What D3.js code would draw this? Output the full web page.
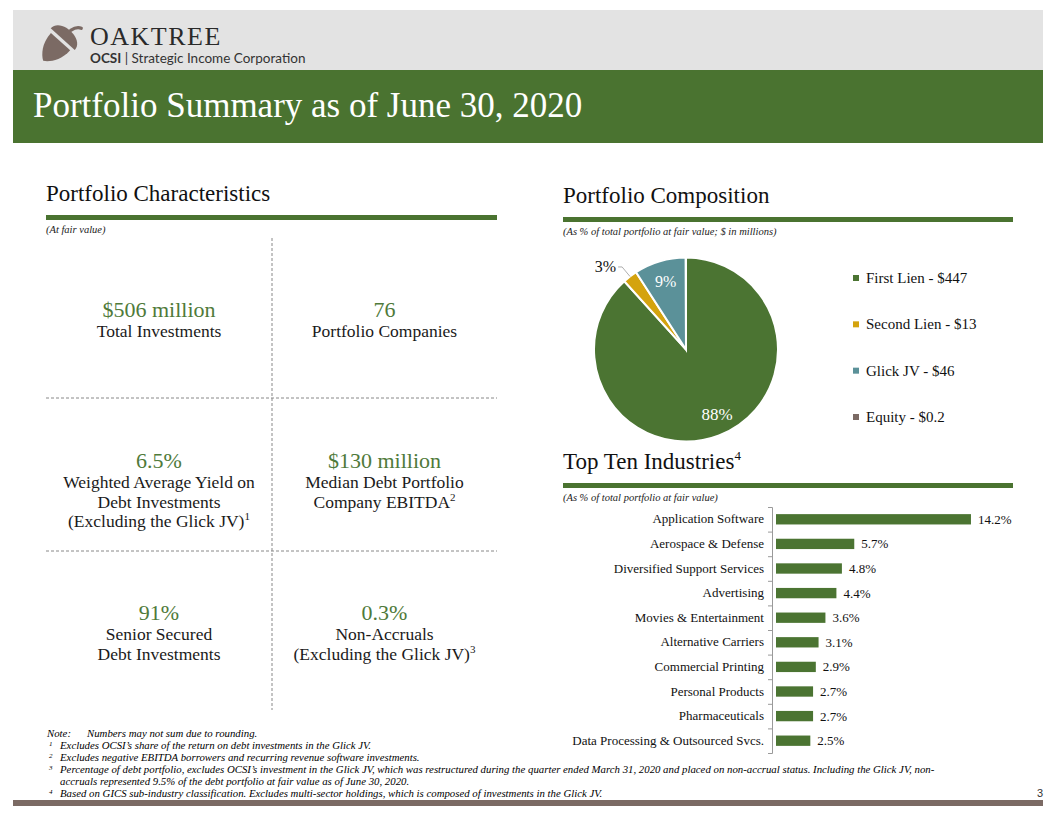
<!DOCTYPE html>
<html>
<head>
<meta charset="utf-8">
<script src="https://cdn.jsdelivr.net/npm/d3@7/dist/d3.min.js"></script>
<style>
  html, body { margin: 0; padding: 0; background: #fff; }
  svg { display: block; }
  text { font-family: "Liberation Serif", "DejaVu Serif", serif; }
</style>
</head>
<body>
<svg id="chart" width="1056" height="816"></svg>
<script>
// ---------------- DATA ----------------
const compLabels = ["First Lien", "Second Lien", "Glick JV", "Equity"];
const compValues = [447, 13, 46, 0.2];
const compValueText = ["$447", "$13", "$46", "$0.2"];
const compPctText = ["88%", "3%", "9%", ""];
const compColors = ["#4b7432", "#d4a30e", "#5b9199", "#7b6a64"];

const industries = ["Application Software", "Aerospace & Defense", "Diversified Support Services",
  "Advertising", "Movies & Entertainment", "Alternative Carriers", "Commercial Printing",
  "Personal Products", "Pharmaceuticals", "Data Processing & Outsourced Svcs."];
const industryPct = [14.2, 5.7, 4.8, 4.4, 3.6, 3.1, 2.9, 2.7, 2.7, 2.5];

const statValues = ["$506 million", "76", "6.5%", "$130 million", "91%", "0.3%"];
const statDescs = [
  [["Total Investments"]],
  [["Portfolio Companies"]],
  [["Weighted Average Yield on"], ["Debt Investments"], ["(Excluding the Glick JV)", "1"]],
  [["Median Debt Portfolio"], ["Company EBITDA", "2"]],
  [["Senior Secured"], ["Debt Investments"]],
  [["Non-Accruals"], ["(Excluding the Glick JV)", "3"]]
];

const footnotes = [
  ["Note:", "Numbers may not sum due to rounding."],
  ["1", "Excludes OCSI\u2019s share of the return on debt investments in the Glick JV."],
  ["2", "Excludes negative EBITDA borrowers and recurring revenue software investments."],
  ["3", "Percentage of debt portfolio, excludes OCSI\u2019s investment in the Glick JV, which was restructured during the quarter ended March 31, 2020 and placed on non-accrual status. Including the Glick JV, non-"],
  ["", "accruals represented 9.5% of the debt portfolio at fair value as of June 30, 2020."],
  ["4", "Based on GICS sub-industry classification. Excludes multi-sector holdings, which is composed of investments in the Glick JV."]
];

// ---------------- STYLE ----------------
const GREEN = "#4a7330";
const svg = d3.select("#chart");

// ---------------- HEADER ----------------
svg.append("rect").attr("x", 13).attr("y", 10).attr("width", 1030).attr("height", 60).attr("fill", "#e3e3e3");
svg.append("rect").attr("x", 13).attr("y", 70).attr("width", 1030).attr("height", 73).attr("fill", GREEN);

// acorn logo
const acorn = svg.append("g").attr("transform", "translate(62,40) rotate(42) scale(1.08)");
const BROWN = "#7b6a64";
acorn.append("path").attr("d", "M-15,-1 C-15,-15 15,-15 15,-1 Z").attr("fill", BROWN);
acorn.append("path").attr("d", "M0,-12 C1,-16 3,-19 6,-20").attr("stroke", BROWN).attr("stroke-width", 3).attr("fill", "none").attr("stroke-linecap", "round");
acorn.append("path").attr("d", "M-12,2 L12,2 C12,15 5,23 0,26 C-5,23 -12,15 -12,2 Z").attr("fill", BROWN);

svg.append("text").attr("x", 90).attr("y", 44.5).attr("font-size", 26).attr("letter-spacing", 1.5)
  .attr("fill", "#2a2a2a").text("OAKTREE");
const sub = svg.append("text").attr("x", 90).attr("y", 63).attr("font-size", 13.5)
  .style("font-family", "Lato, 'Open Sans', sans-serif").attr("fill", "#333");
sub.append("tspan").attr("font-weight", "bold").text("OCSI");
sub.append("tspan").text(" | Strategic Income Corporation");

svg.append("text").attr("x", 33).attr("y", 117).attr("font-size", 35).attr("fill", "#fff")
  .text("Portfolio Summary as of June 30, 2020");

// ---------------- SECTION TITLES ----------------
function section(x, y, w, title, sup, subtitle) {
  const t = svg.append("text").attr("x", x).attr("y", y).attr("font-size", 23).attr("fill", "#111").text(title);
  if (sup) t.append("tspan").attr("font-size", 13).attr("dy", -9).text(sup);
  svg.append("rect").attr("x", x).attr("y", y + 14).attr("width", w).attr("height", 5).attr("fill", GREEN);
  svg.append("text").attr("x", x).attr("y", y + 32).attr("font-size", 10.5).attr("font-style", "italic")
    .attr("fill", "#222").text(subtitle);
}
section(46, 201, 451, "Portfolio Characteristics", null, "(At fair value)");
section(563, 203, 450, "Portfolio Composition", null, "(As % of total portfolio at fair value; $ in millions)");
section(563, 469, 450, "Top Ten Industries", "4", "(As % of total portfolio at fair value)");

// ---------------- CHARACTERISTICS GRID ----------------
const gx = [46, 272, 497];
const gyTop = 238, gyBot = 710;
const rowLines = [398, 551];
svg.append("line").attr("x1", gx[1]).attr("x2", gx[1]).attr("y1", gyTop).attr("y2", gyBot)
  .attr("stroke", "#888").attr("stroke-dasharray", "3,2");
rowLines.forEach(y => svg.append("line").attr("x1", gx[0]).attr("x2", gx[2]).attr("y1", y).attr("y2", y)
  .attr("stroke", "#888").attr("stroke-dasharray", "3,2"));

const cellCx = [(gx[0] + gx[1]) / 2, (gx[1] + gx[2]) / 2];
const valueY = [317, 468, 620];
statValues.forEach((v, i) => {
  const col = i % 2, row = Math.floor(i / 2);
  const cx = cellCx[col];
  svg.append("text").attr("x", cx).attr("y", valueY[row]).attr("text-anchor", "middle")
    .attr("font-size", 22).attr("fill", "#4f7a3a").text(v);
  statDescs[i].forEach((ln, j) => {
    const t = svg.append("text").attr("x", cx).attr("y", valueY[row] + 20 + j * 19.5)
      .attr("text-anchor", "middle").attr("font-size", 17.5).attr("fill", "#1a1a1a").text(ln[0]);
    if (ln[1]) t.append("tspan").attr("font-size", 11).attr("dy", -7).text(ln[1]);
  });
});

// ---------------- PIE ----------------
const pcx = 686, pcy = 349.5, pr = 92;
const pie = d3.pie().sort(null).value(d => d)(compValues);
const arc = d3.arc().innerRadius(0).outerRadius(pr);
const pg = svg.append("g").attr("transform", `translate(${pcx},${pcy})`);
pg.selectAll("path").data(pie).join("path").attr("d", arc)
  .attr("fill", (d, i) => compColors[i]).attr("stroke", "#fff").attr("stroke-width", 2);

const labelR = [0.78, 0, 0.78];
const labelShift = [0.08, 0, 0];
pie.forEach((d, i) => {
  if (!compPctText[i]) return;
  const mid = (d.startAngle + d.endAngle) / 2 - labelShift[i];
  if (i === 1) {
    const p0 = [Math.sin(mid) * pr, -Math.cos(mid) * pr];
    const p1 = [Math.sin(mid) * (pr + 13), -Math.cos(mid) * (pr + 12)];
    pg.append("polyline").attr("points", [p0, p1, [p1[0] - 4, p1[1]]].map(p => p.join(",")).join(" "))
      .attr("fill", "none").attr("stroke", "#999").attr("stroke-width", 0.8);
    pg.append("text").attr("x", p1[0] - 6).attr("y", p1[1] + 5).attr("text-anchor", "end")
      .attr("font-size", 16).attr("fill", "#111").text(compPctText[i]);
  } else {
    const r = pr * labelR[i];
    pg.append("text").attr("x", Math.sin(mid) * r).attr("y", -Math.cos(mid) * r + 6)
      .attr("text-anchor", "middle").attr("font-size", i === 0 ? 17 : 16).attr("fill", "#fff").text(compPctText[i]);
  }
});

// legend
const legY = d3.scalePoint().domain(compLabels).range([278, 417]);
compLabels.forEach((c, i) => {
  svg.append("rect").attr("x", 853).attr("y", legY(c) - 3).attr("width", 6).attr("height", 6).attr("fill", compColors[i]);
  svg.append("text").attr("x", 866).attr("y", legY(c) + 5).attr("font-size", 15).attr("fill", "#111")
    .text(`${c} - ${compValueText[i]}`);
});

// ---------------- BAR CHART ----------------
const bx0 = 776, bTop = 507, bBot = 753;
const y = d3.scaleBand().domain(industries).range([bTop, bBot]).paddingInner(0.58).paddingOuter(0.29);
const x = d3.scaleLinear().domain([0, 16]).range([bx0, bx0 + 16 * 13.73]);

const yAxis = svg.append("g").attr("transform", `translate(${bx0 - 4},0)`)
  .call(d3.axisLeft(y).tickSize(0).tickPadding(8));
yAxis.select(".domain").remove();
yAxis.selectAll("text").attr("font-size", 13).attr("fill", "#111")
  .style("font-family", "'Liberation Serif', serif");

// axis line with boundary ticks
const tickY = d3.scaleLinear().domain([0, industries.length]).range([bTop, bBot]);
const tickAxis = svg.append("g").attr("transform", `translate(${bx0 - 4},0)`)
  .call(d3.axisLeft(tickY).ticks(industries.length).tickSize(4).tickSizeOuter(4).tickFormat(""));
tickAxis.selectAll("path, line").attr("stroke", "#9a9a9a");

svg.append("g").selectAll("rect").data(industries).join("rect")
  .attr("x", x(0)).attr("y", d => y(d)).attr("height", y.bandwidth())
  .attr("width", (d, i) => x(industryPct[i]) - x(0)).attr("fill", "#4b7432");
svg.append("g").selectAll("text").data(industries).join("text")
  .attr("x", (d, i) => x(industryPct[i]) + 7).attr("y", d => y(d) + y.bandwidth() / 2 + 4.5)
  .attr("font-size", 13).attr("fill", "#111").text((d, i) => industryPct[i].toFixed(1) + "%");

// ---------------- FOOTNOTES ----------------
footnotes.forEach((f, i) => {
  const fy = 737 + i * 12;
  if (f[0] === "Note:") {
    svg.append("text").attr("x", 47).attr("y", fy).attr("font-size", 10.8).attr("font-style", "italic").text(f[0]);
    svg.append("text").attr("x", 87).attr("y", fy).attr("font-size", 10.8).attr("font-style", "italic").text(f[1]);
  } else {
    if (f[0]) svg.append("text").attr("x", 49).attr("y", fy - 3).attr("font-size", 7).attr("font-style", "italic").text(f[0]);
    svg.append("text").attr("x", 60).attr("y", fy).attr("font-size", 10.8).attr("font-style", "italic").text(f[1]);
  }
});

svg.append("text").attr("x", 1043).attr("y", 797).attr("text-anchor", "end").attr("font-size", 11)
  .style("font-family", "'Liberation Sans', sans-serif").attr("fill", "#333").text("3");
svg.append("rect").attr("x", 13).attr("y", 800).attr("width", 1030).attr("height", 6).attr("fill", "#7b6a64");
</script>
</body>
</html>
